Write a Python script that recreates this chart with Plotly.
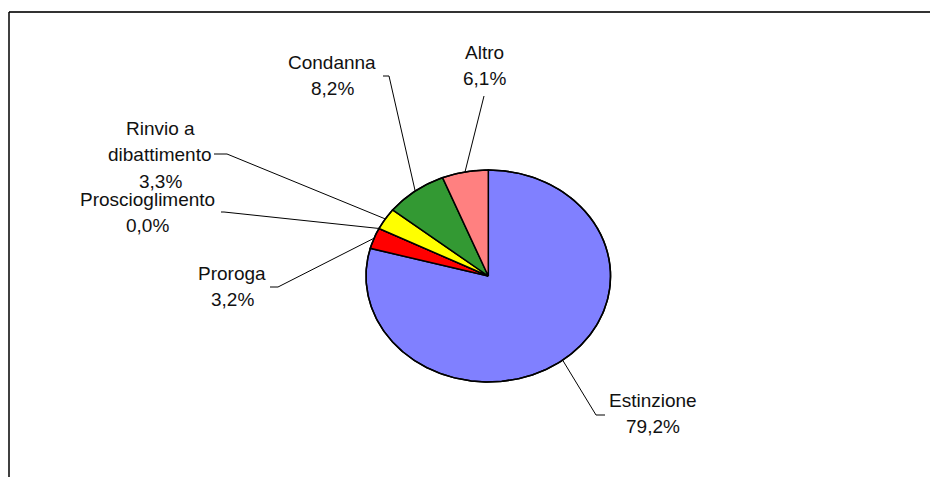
import numpy as np
import plotly.graph_objects as go

# ---- data ----
categories = ["Estinzione", "Proroga", "Proscioglimento", "Rinvio a\ndibattimento", "Condanna", "Altro"]
values = [79.2, 3.2, 0.0, 3.3, 8.2, 6.1]
colors = ["#8080FF", "#FF0000", "#00CCFF", "#FFFF00", "#339933", "#FF8080"]

# ---- layout (page pixel space) ----
W, H = 930, 477
CX, CY, RX, RY = 488.3, 276.0, 122.3, 106.0
LINE_GAP = 26.3
# centre of first text line for each label
label_pos = [(653, 400.5), (232, 273.5), (147, 199.5), (160, 128.5), (332, 62), (484, 52.5)]
# text-side leader points (from label towards the pie)
leader_pts = [
    [(605, 415), (596, 415)],
    [(270, 287), (278, 287)],
    [(221, 212), (224, 212)],
    [(214, 154), (227, 154)],
    [(383, 76), (389, 76)],
    [(484, 96)],
]

def pt(frac):
    a = 2 * np.pi * frac  # clockwise from 12 o'clock
    return CX + RX * np.sin(a), CY - RY * np.cos(a)

fig = go.Figure()
total = sum(values)
cum = 0.0
mids = []
for v, c, name in zip(values, colors, categories):
    f0 = cum / total
    f1 = (cum + v) / total
    n = max(2, int(np.ceil((f1 - f0) * 720)))
    fr = np.linspace(f0, f1, n)
    xs = [CX] + [pt(f)[0] for f in fr] + [CX]
    ys = [CY] + [pt(f)[1] for f in fr] + [CY]
    fig.add_trace(go.Scatter(x=xs, y=ys, mode="lines", fill="toself", fillcolor=c,
                             line=dict(color="black", width=1.5), hoverinfo="skip",
                             showlegend=False, name=name.replace("\n", " ")))
    mids.append((f0 + f1) / 2)
    cum += v

# outer outline
fr = np.linspace(0, 1, 721)
fig.add_trace(go.Scatter(x=[pt(f)[0] for f in fr], y=[pt(f)[1] for f in fr], mode="lines",
                         line=dict(color="black", width=1.5), hoverinfo="skip", showlegend=False))

# leader lines
for m, pts in zip(mids, leader_pts):
    ex, ey = pt(m)
    xs = [p[0] for p in pts] + [ex]
    ys = [p[1] for p in pts] + [ey]
    fig.add_trace(go.Scatter(x=xs, y=ys, mode="lines", line=dict(color="black", width=1),
                             hoverinfo="skip", showlegend=False))

# labels
font = dict(family="Liberation Sans, Arial", size=19, color="#111111")
for name, v, (lx, ly) in zip(categories, values, label_pos):
    lines = name.split("\n") + [f"{v:.1f}%".replace(".", ",")]
    for i, t in enumerate(lines):
        fig.add_annotation(x=lx, y=ly + i * LINE_GAP, text=t, showarrow=False,
                           xanchor="center", yanchor="middle", font=font)

# frame
fig.add_shape(type="line", x0=9, y0=12, x1=W + 20, y1=12, line=dict(color="#333333", width=2))
fig.add_shape(type="line", x0=9, y0=12, x1=9, y1=H + 20, line=dict(color="black", width=1.5))

fig.update_layout(
    width=W, height=H, margin=dict(l=0, r=0, t=0, b=0),
    paper_bgcolor="white", plot_bgcolor="white",
    xaxis=dict(range=[0, W], visible=False, fixedrange=True),
    yaxis=dict(range=[H, 0], visible=False, fixedrange=True),
)
fig.write_html("out.html", config={"displayModeBar": False, "staticPlot": True},
               post_script="document.body.style.margin='0';document.body.style.overflow='hidden';")
